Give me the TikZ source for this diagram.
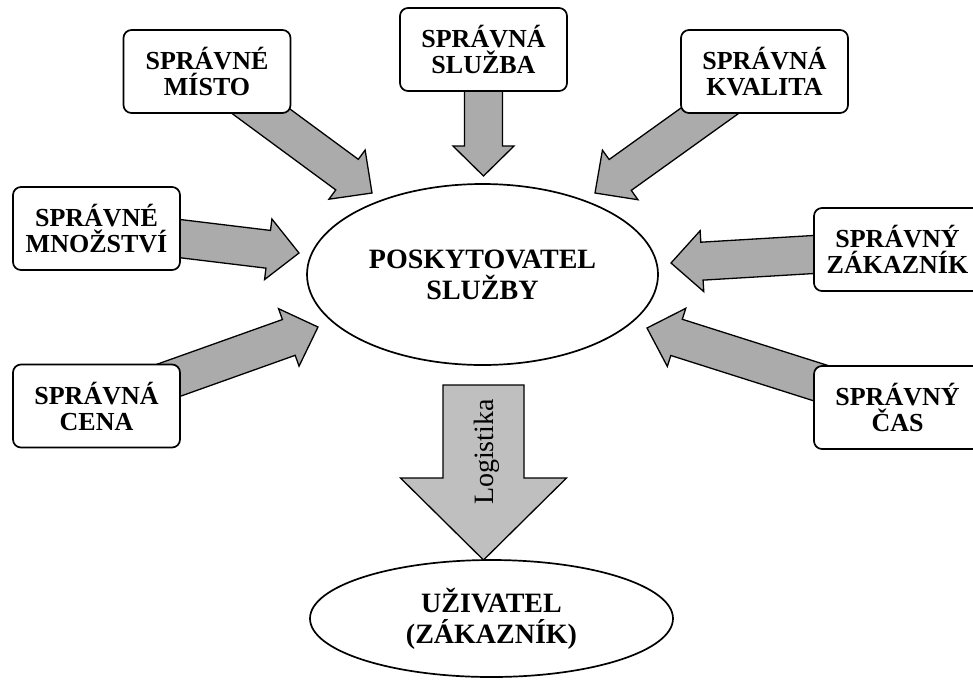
\documentclass[tikz,border=0pt]{standalone}
\usepackage{fontspec}
\setmainfont{Liberation Serif}
\usetikzlibrary{calc,shapes.geometric,backgrounds}
\definecolor{arrgray}{HTML}{ABABAB}
\definecolor{biggray}{HTML}{BFBFBF}
\tikzset{
  box/.style={draw, line width=1.7pt, rounded corners=8pt, fill=white,
    minimum width=167pt, minimum height=83pt, inner sep=0pt, align=center,
    font=\fontsize{26}{26}\selectfont\bfseries},
  ell/.style={draw, ellipse, line width=1.7pt, fill=white, inner sep=0pt, align=center,
    font=\fontsize{28}{31}\selectfont\bfseries},
  smallarr/.style={draw, fill=arrgray, line width=1.3pt, line join=miter},
  bigarr/.style={draw, fill=biggray, line width=1.3pt, line join=miter},
}
% #1 style, #2 start, #3 tip, #4 shaft half width, #5 head half width, #6 head length
\newcommand\blockarr[6]{%
  \path let \p1=($(#3)-(#2)$) in \pgfextra{%
    \pgfmathsetmacro\barang{atan2(\y1,\x1)}%
    \pgfmathsetmacro\barlen{veclen(\x1,\y1)}%
    \global\let\barangG\barang\global\let\barlenG\barlen};
  \begin{scope}[shift={(#3)},rotate=\barangG]
    \draw[#1] (0,0) -- (-#6,#5) -- (-#6,#4) -- (-\barlenG,#4) -- (-\barlenG,-#4)
      -- (-#6,-#4) -- (-#6,-#5) -- cycle;
  \end{scope}}
\begin{document}
\begin{tikzpicture}[x=1pt,y=1pt]
\useasboundingbox (0,0) rectangle (973,-681);
% boxes
\node[box] (misto) at (207,-71.5) {SPRÁVNÉ\\MÍSTO};
\node[box] (sluzba) at (483.5,-49.5) {SPRÁVNÁ\\SLUŽBA};
\node[box] (kvalita) at (764.5,-71.5) {SPRÁVNÁ\\KVALITA};
\node[box] (mnozstvi) at (96.5,-228.5) {SPRÁVNÉ\\MNOŽSTVÍ};
\node[box] (cena) at (96.5,-406) {SPRÁVNÁ\\CENA};
\node[box] (zakaznik) at (897.5,-249.5) {SPRÁVNÝ\\ZÁKAZNÍK};
\node[box] (cas) at (897.5,-407.5) {SPRÁVNÝ\\ČAS};
% ellipses
\node[ell, minimum width=351pt, minimum height=181pt] (prov) at (482.5,-274.5) {POSKYTOVATEL\\SLUŽBY};
\node[ell, minimum width=363pt, minimum height=117pt] (user) at (491.5,-618.5) {UŽIVATEL\\(ZÁKAZNÍK)};
% arrow tips
\coordinate (t1) at (372,-193);
\coordinate (t2) at (483.5,-176);
\coordinate (t3) at (595,-193);
\coordinate (t4) at (299,-253);
\coordinate (t5) at (318,-327);
\coordinate (t6) at (671,-263);
\coordinate (t7) at (647,-328);
\coordinate (ls) at (483.5,-385);
\coordinate (lt) at (483.5,-560);
\begin{pgfonlayer}{background}
\blockarr{smallarr}{misto}{t1}{19}{30.5}{31}
\blockarr{smallarr}{sluzba}{t2}{19}{30.5}{30}
\blockarr{smallarr}{kvalita}{t3}{19}{30.5}{31}
\blockarr{smallarr}{mnozstvi}{t4}{19}{30.5}{31}
\blockarr{smallarr}{cena}{t5}{19}{30.5}{31}
\blockarr{smallarr}{zakaznik}{t6}{19}{30.5}{31}
\blockarr{smallarr}{cas}{t7}{19}{30.5}{31}
\blockarr{bigarr}{ls}{lt}{40.5}{83}{82}
\end{pgfonlayer}
\node[rotate=90, font=\fontsize{28}{28}\selectfont] (logi) at (487,-452) {Logistika};
\end{tikzpicture}
\end{document}
